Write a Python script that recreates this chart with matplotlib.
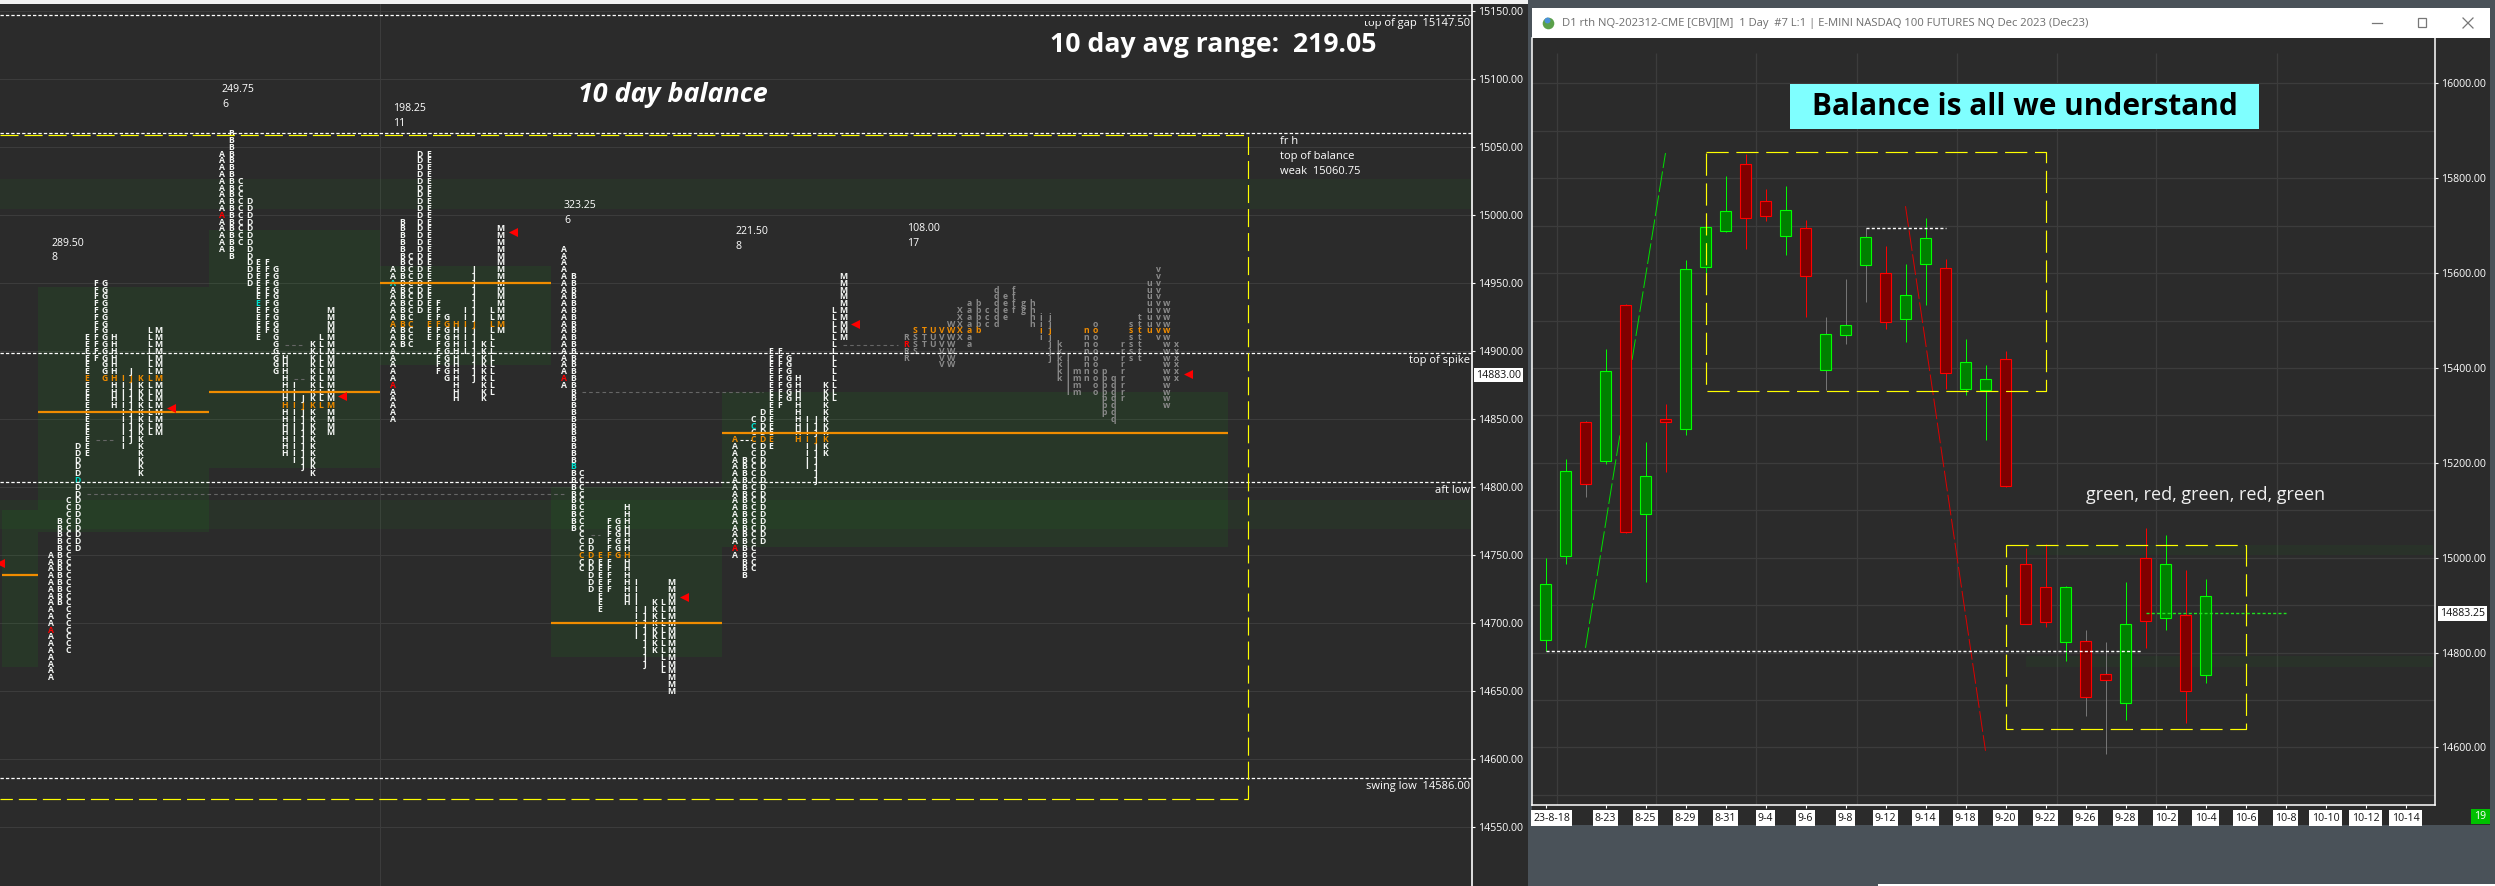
import numpy as np
import matplotlib
matplotlib.use("Agg")
import matplotlib.pyplot as plt
from matplotlib.patches import Rectangle
from matplotlib.transforms import ScaledTranslation

plt.rcParams['font.family'] = ['Open Sans', 'DejaVu Sans']
plt.rcParams['lines.scale_dashes'] = False

# ---------- right chart data ----------
c_open = [14827,15004,15286,15204,15532,15093,15293,15271,15613,15689,15829,15751,15679,15696,15396,15470,15617,15601,15503,15620,15611,15355,15353,15419,14987,14938,14822,14825,14754,14694,15000,14873,14880,14752]
c_close = [14945,15183,15156,15394,15055,15173,15286,15609,15698,15730,15717,15721,15732,15594,15472,15491,15675,15497,15554,15673,15389,15413,15377,15152,14861,14865,14938,14707,14743,14860,14867,14987,14720,14920]
c_high = [14999,15209,15289,15439,15535,15244,15323,15627,15698,15804,15851,15777,15783,15711,15508,15587,15696,15658,15620,15716,15629,15462,15407,15435,15020,15028,14940,14847,14822,14948,15062,15047,14975,14956]
c_low = [14803,14986,15129,15198,15052,14948,15180,15259,15565,15687,15650,15710,15639,15507,15354,15451,15538,15483,15454,15532,15356,15344,15249,15149,14861,14854,14782,14666,14586,14657,14810,14847,14651,14736]
faint_wicks = [2, 14, 15, 16, 27, 28]
date_idx = [0,3,5,7,9,11,13,15,17,19,21,23,25,27,29,31,33,35,37,39,41,43]
date_labels = ['23-8-18','8-23','8-25','8-29','8-31','9-4','9-6','9-8','9-12','9-14','9-18','9-20','9-22','9-26','9-28','10-2','10-4','10-6','10-8','10-10','10-12','10-14']
r_price_ticks = [16000,15800,15600,15400,15200,15000,14800,14600]
r_minor_ticks = [15900,15700,15500,15300,15100,14900,14700,14500]
r_vgrid = [0.56,5.54,10.54,15.55,20.56,25.57,30.54,36.55]
r_last = 14883.25
r_rect1 = (8, 25, 15351, 15856)
r_rect2 = (23, 35, 14638, 15027)
r_bands = [(15005,15026),(14770,14792)]

# ---------- left chart data ----------
l_price_ticks = list(range(14550,15151,50))
l_last = 14883.00
levels = [15147.5, 15060.75, 14899, 14804, 14586]
letters_a = "ABCDEFGHIJKLM"

s1_hi = [14750,14775,14790,14830,14910,14950,14950,14910,14880,14885,14880,14915,14915]
s1_lo = [14660,14715,14680,14755,14825,14895,14880,14860,14830,14835,14810,14840,14840]
s2_hi = [15045,15060,15025,15010,14965,14965,14960,14895,14875,14865,14905,14910,14930]
s2_lo = [14975,14970,14980,14950,14910,14915,14885,14825,14820,14815,14810,14860,14840]
s3_hi = [14960,14995,14970,15045,15045,14935,14925,14920,14930,14960,14905,14930,14990]
s3_lo = [14850,14905,14905,14930,14910,14885,14880,14865,14900,14880,14865,14870,14915]
s4_hi = [14975,14955,14810,14760,14750,14775,14775,14785,14730,14710,14715,14715,14730]
s4_lo = [14875,14770,14740,14725,14710,14725,14750,14715,14690,14670,14680,14665,14650]
s5_hi = [14835,14820,14850,14855,14900,14900,14895,14880,14850,14850,14875,14930,14955]
s5_lo = [14750,14735,14740,14760,14830,14860,14865,14835,14815,14805,14825,14865,14910]
s5b_letters = "RSTUVWXabcdefghijklmnopqrstuvwx"
s5b_hi = [14910,14915,14915,14915,14915,14920,14930,14935,14935,14930,14945,14940,14945,14935,14935,14925,14925,14905,14895,14885,14915,14920,14885,14880,14905,14920,14925,14950,14960,14935,14905]
s5b_lo = [14895,14900,14905,14905,14890,14890,14910,14905,14915,14920,14920,14925,14930,14930,14920,14910,14895,14880,14870,14870,14880,14870,14855,14850,14865,14895,14895,14915,14910,14860,14880]

s_left = [38,209,380,551,722]
s_right = [209,380,551,722,1228]
s_first = [50.5,222,392.7,563.7,735]
va_hi = [14947,14989,14963,14800,14870]
va_lo = [14767,14814,14890,14675,14756]
poc = [14855,14870,14950,14700,14840]
orange = [14880,14860,14920,14750,14835]
red_row = [14695,15000,14875,14880,14755]
teal = [('D',14805),('E',14935),('A',14950),('B',14815),('C',14845)]
s0_va = (2,38,14668,14783,14735.5)
wide_bands = [(15005,15027),(14769,14791)]
tri_x = [342,171,0,684,855,1188,513]
tri_p = [14867,14858,14744,14719,14920,14883,14988]
naked = [(87,564,14795),(582,763,14870),(843,898,14905),(285,304,14905),(294,304,14880),(96,115,14835),(591,600,14765)]

BG = '#2b2b2b'
WIN = '#4a5259'
GRID = '#3c3c3c'
W, H = 2495, 886
fig = plt.figure(figsize=(W/100, H/100), dpi=100, facecolor=WIN)

# background pixel layer
bg = fig.add_axes([0,0,1,1], zorder=0)
bg.set_xlim(0,W); bg.set_ylim(H,0); bg.axis('off')
bg.add_patch(Rectangle((0,4),1528,H-4,fc=BG,ec='none'))
bg.add_patch(Rectangle((0,0),1528,3.6,fc='#f0f0f0',ec='none'))
bg.add_patch(Rectangle((1532,38),958,787,fc=BG,ec='none'))
bg.add_patch(Rectangle((1532,8),958,30,fc='white',ec='none'))
bg.add_patch(Rectangle((1878,884),617,2,fc='white',ec='none'))

def fax(x0,y0,x1,y1,z):
    a = fig.add_axes([x0/W,1-y1/H,(x1-x0)/W,(y1-y0)/H],zorder=z)
    a.patch.set_visible(False)
    return a

# ---------- left chart ----------
axl = fax(0,4,1471.5,886,1)
axl.set_xlim(0,1471.5)
axl.set_ylim(14506.8,15155.4)
for s in ['left','top','bottom']:
    axl.spines[s].set_visible(False)
axl.spines['right'].set_color('white'); axl.spines['right'].set_linewidth(1.2)
axl.yaxis.tick_right()
axl.set_xticks([])
axl.set_yticks(l_price_ticks)
axl.set_yticklabels([f'{p:.2f}' for p in l_price_ticks])
axl.tick_params(axis='y',colors='white',length=2.5,width=0.8,pad=2,labelsize=7.6)
for p in l_price_ticks:
    axl.axhline(p,color=GRID,lw=0.8,zorder=1)
axl.axvline(380,color=GRID,lw=0.8,zorder=1)

for lo,hi in wide_bands:
    axl.axhspan(lo,hi,color='#00ff00',alpha=0.04,lw=0,zorder=1.5)
axl.add_patch(Rectangle((s0_va[0],s0_va[2]),s0_va[1]-s0_va[0],s0_va[3]-s0_va[2],fc='#00ff00',alpha=0.06,ec='none',zorder=1.6))
axl.plot(s0_va[:2],[s0_va[4]]*2,color='#f08c00',lw=1.6,zorder=2,solid_capstyle='butt')
for i in range(5):
    axl.add_patch(Rectangle((s_left[i],va_lo[i]),s_right[i]-s_left[i],va_hi[i]-va_lo[i],fc='#00ff00',alpha=0.06,ec='none',zorder=1.6))
    axl.plot([s_left[i],s_right[i]],[poc[i]]*2,color='#f08c00',lw=1.6,zorder=4,solid_capstyle='butt')

for a,b,p in naked:
    axl.plot([a,b],[p,p],color='#666666',lw=0.8,ls=(0,(2.6,2.2)),zorder=2)
axl.plot([740,752],[14835,14835],color='white',lw=0.8,ls=(0,(2.2,1.5)),zorder=2)

for lv in levels:
    axl.axhline(lv,color='white',lw=0.9,ls=(0,(2.4,1.5)),zorder=5)

axl.plot([0,1248,1248,0],[15059,15059,14570.5,14570.5],color='#ffff00',lw=0.85,ls=(0,(13,4.3)),zorder=5,dash_joinstyle='miter')

def profile(letters,cols,first,hi,lo,base,fw,ora,red,tl,size=6.2):
    for j,ch in enumerate(letters):
        x = first+9*cols[j]
        for p in np.arange(lo[j],hi[j]+1,5):
            col = base; w = fw
            if p == ora: col = '#f08c00'
            if red is not None and ch == red[0] and p == red[1]: col = '#ff0000'
            if tl is not None and ch == tl[0] and p == tl[1]: col = '#00e0d0'
            axl.text(x,p,ch,color=col,fontsize=size,fontweight=w,ha='center',va='center',zorder=3,family=['Open Sans'])

all_hi = [s1_hi,s2_hi,s3_hi,s4_hi,s5_hi]
all_lo = [s1_lo,s2_lo,s3_lo,s4_lo,s5_lo]
for i in range(5):
    profile(letters_a,list(range(13)),s_first[i],all_hi[i],all_lo[i],'#f4f6f4','bold',orange[i],('A',red_row[i]),teal[i])
cols_b = list(range(19,50))
profile(s5b_letters,cols_b,s_first[4],s5b_hi,s5b_lo,'#8a8a8a','bold',14915,('R',14905),None)

axl.scatter(tri_x,tri_p,marker='<',s=42,color='#ff0000',linewidths=0,zorder=6,clip_on=True)

# ---------- right chart ----------
axr = fax(1532.4,38,2435,805,2)
px_per = 20.0
axr.set_xlim((1532.4-1545.5)/px_per,(2435-1545.5)/px_per)
axr.set_ylim(14478.8,16095.5)
for s in ['left','bottom','right']:
    axr.spines[s].set_color('white'); axr.spines[s].set_linewidth(1.1)
axr.spines['top'].set_visible(False)
axr.yaxis.tick_right()
axr.set_yticks(r_price_ticks)
axr.set_yticklabels([f'{p:.2f}' for p in r_price_ticks])
axr.tick_params(axis='y',colors='white',length=2.5,width=0.8,pad=2,labelsize=7.6)
for p in r_price_ticks+r_minor_ticks:
    axr.axhline(p,color=GRID,lw=0.9,zorder=1)
axr.vlines(r_vgrid,14478.8,16064,color=GRID,lw=0.9,zorder=1)
axr.set_xticks(date_idx)
axr.set_xticklabels(date_labels)
axr.tick_params(axis='x',colors='white',length=2.5,width=0.8,pad=3,labelsize=7.6)
for k,lab in enumerate(axr.get_xticklabels()):
    lab.set_color('#111111')
    lab.set_bbox(dict(fc='white',ec='none',pad=1.6))
    if k == 0:
        lab.set_transform(lab.get_transform()+ScaledTranslation(0.06,0,fig.dpi_scale_trans))

for lo,hi in r_bands:
    axr.fill_between([24,44.35],lo,hi,color='#00ff00',alpha=0.035,lw=0,zorder=1.5)

for i in range(len(c_open)):
    up = c_close[i] >= c_open[i]
    edge = '#00ff00' if up else '#ff0000'
    fill = '#008000' if up else '#800000'
    wk = '#777777' if i in faint_wicks else edge
    axr.plot([i,i],[c_low[i],c_high[i]],color=wk,lw=0.7,zorder=3,solid_capstyle='butt')
    b,t = sorted((c_open[i],c_close[i]))
    axr.add_patch(Rectangle((i-0.29,b),0.58,t-b,fc=fill,ec=edge,lw=0.8,zorder=4))

for (x0,x1,y0,y1) in [r_rect1,r_rect2]:
    axr.plot([x0,x1,x1,x0,x0],[y1,y1,y0,y0,y1],color='#ffff00',lw=0.85,ls=(0,(16,5.5)),zorder=5)

axr.plot([2,6],[14810,15853],color='#00e000',lw=0.7,ls=(0,(15,2.5)),zorder=3)
axr.plot([18,22],[15741,14593],color='#e00000',lw=0.7,ls=(0,(15,2.5)),zorder=3)
axr.plot([0,29.8],[14803,14803],color='white',lw=1,ls=(0,(2.2,1.6)),zorder=6)
axr.plot([16,20],[15696,15696],color='white',lw=1,ls=(0,(2.2,1.6)),zorder=6)
axr.plot([30,37],[r_last,r_last],color='#20e020',lw=1,ls=(0,(2.2,1.6)),zorder=6)

# ---------- pixel overlay with labels ----------
ov = fig.add_axes([0,0,1,1],zorder=10)
ov.set_xlim(0,W); ov.set_ylim(H,0); ov.axis('off')
def T(x,y,s,**k):
    k.setdefault('color','white'); k.setdefault('fontsize',7.6); k.setdefault('va','center'); k.setdefault('ha','left')
    return ov.text(x,y,s,**k)

T(1050,45,'10 day avg range:  219.05',fontsize=19.2,fontweight='bold')
T(578,95,'10 day balance',fontsize=19.4,fontweight='bold',style='italic')
for x,y,a,b in [(51,243,'289.50','8'),(222,89,'249.75','6'),(393,108.7,'198.25','11'),(564,205.5,'323.25','6'),(735,231,'221.50','8'),(907,228,'108.00','17')]:
    T(x,y,a); T(x,y+15,b)
T(1470,23,'top of gap  15147.50',ha='right',fontsize=8)
ov.add_patch(Rectangle((1362,16),22,4.6,fc=BG,ec='none',zorder=20))
T(1280,141,'fr h',fontsize=8); T(1280,156,'top of balance',fontsize=8); T(1280,171,'weak  15060.75',fontsize=8)
T(1470,361,'top of spike',ha='right',fontsize=8)
T(1470,490,'aft low',ha='right',fontsize=8)
T(1470,786,'swing low  14586.00',ha='right',fontsize=8)
T(1476,375,f'{l_last:.2f}',color='#111111',bbox=dict(fc='white',ec='none',pad=1.4))
T(2440,613.7,f'{r_last:.2f}',color='#111111',bbox=dict(fc='white',ec='none',pad=1.6))

ov.add_patch(Rectangle((1790,84),469,45,fc='#7fffff',ec='none'))
T(2024.5,107,'Balance is all we understand',color='black',fontsize=21.4,fontweight='bold',ha='center')
T(2086,495,'green, red, green, red, green',fontsize=13,color='#f0f0f0')

ov.add_patch(Rectangle((2471,809),19,15,fc='#00c000',ec='none'))
T(2480.5,816.5,'19',ha='center')

T(1561.5,23,'D1 rth NQ-202312-CME [CBV][M]  1 Day  #7 L:1 | E-MINI NASDAQ 100 FUTURES NQ Dec 2023 (Dec23)',color='#6e6e6e',fontsize=8.15)
ov.scatter([1547.5],[23],s=70,color='#5aa04a',linewidths=0)
ov.scatter([1546.5],[20],s=18,color='#4a90d9',linewidths=0)
ov.plot([2372,2382],[23,23],color='#777777',lw=0.9)
ov.add_patch(Rectangle((2418,18),8,9,fc='none',ec='#777777',lw=0.9))
ov.plot([2463,2473],[18,28],color='#777777',lw=0.9)
ov.plot([2463,2473],[28,18],color='#777777',lw=0.9)

fig.savefig('out.png',dpi=100,facecolor=fig.get_facecolor())
